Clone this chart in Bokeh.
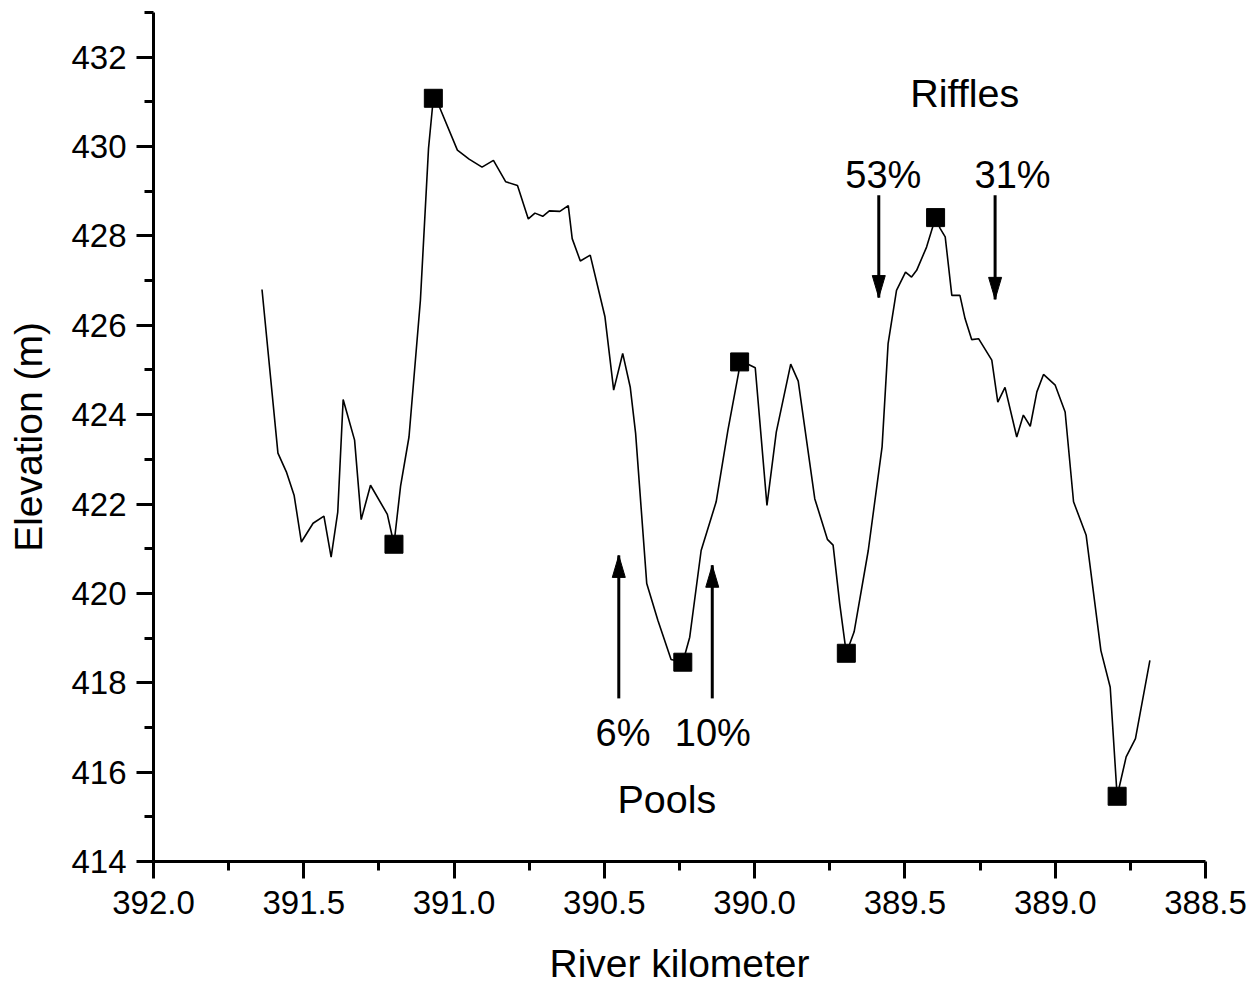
from bokeh.plotting import figure
from bokeh.models import Range1d, FixedTicker, NumeralTickFormatter
from bokeh.core.properties import value
from bokeh.embed import file_html
from bokeh.resources import INLINE

# Longitudinal bed profile: river kilometer vs. elevation (m)
km = [391.639, 391.586, 391.558, 391.532, 391.508, 391.469, 391.433, 391.409,
      391.387, 391.369, 391.331, 391.309, 391.278, 391.222, 391.200, 391.178,
      391.150, 391.112, 391.085, 391.069, 391.049, 390.989, 390.950, 390.907,
      390.869, 390.828, 390.789, 390.753, 390.731, 390.705, 390.683, 390.648,
      390.620, 390.607, 390.580, 390.547, 390.498, 390.469, 390.439, 390.414,
      390.396, 390.359, 390.322, 390.278, 390.239, 390.216, 390.178, 390.128,
      390.089, 390.053, 390.050, 390.022, 389.998, 389.959, 389.928, 389.880,
      389.855, 389.800, 389.758, 389.739, 389.717, 389.695, 389.669, 389.622,
      389.576, 389.556, 389.528, 389.498, 389.478, 389.461, 389.428, 389.398,
      389.383, 389.366, 389.344, 389.317, 389.300, 389.278, 389.255, 389.211,
      389.191, 389.167, 389.128, 389.106, 389.083, 389.061, 389.039, 389.000,
      388.967, 388.939, 388.897, 388.848, 388.817, 388.794, 388.764, 388.733,
      388.685]
elev = [426.80, 423.14, 422.72, 422.19, 421.15, 421.57, 421.73, 420.81,
        421.82, 424.34, 423.43, 421.65, 422.42, 421.77, 421.10, 422.40,
        423.50, 426.56, 429.96, 431.08, 430.89, 429.92, 429.72, 429.54,
        429.69, 429.21, 429.13, 428.38, 428.51, 428.44, 428.56, 428.55,
        428.68, 427.94, 427.44, 427.57, 426.19, 424.55, 425.37, 424.62,
        423.58, 420.22, 419.40, 418.52, 418.46, 419.02, 420.96, 422.05,
        423.65, 424.95, 425.18, 425.13, 425.05, 421.97, 423.61, 425.13,
        424.75, 422.12, 421.21, 421.08, 419.77, 418.66, 419.14, 420.96,
        423.28, 425.59, 426.78, 427.19, 427.08, 427.23, 427.75, 428.41,
        428.17, 427.98, 426.67, 426.67, 426.15, 425.68, 425.70, 425.22,
        424.28, 424.61, 423.50, 423.99, 423.74, 424.51, 424.90, 424.66,
        424.06, 422.05, 421.30, 418.72, 417.90, 415.46, 416.34, 416.75,
        418.50]

# Highlighted extremes (pool bottoms and riffle crests)
mark_km = [391.200, 391.069, 390.239, 390.050, 389.695, 389.398, 388.794]
mark_elev = [421.10, 431.08, 418.46, 425.18, 418.66, 428.41, 415.46]

# Annotation arrows: x position, tail elevation, tip elevation
arrow_km = [390.452, 390.141, 389.587, 389.200]
arrow_tail = [417.65, 417.65, 428.91, 428.91]
arrow_tip = [420.85, 420.63, 426.62, 426.58]

# Annotation texts
pct_labels = ["6%", "10%", "53%", "31%"]
pct_km = [390.438, 390.139, 389.572, 389.142]
pct_elev = [416.87, 416.87, 429.36, 429.36]
group_labels = ["Pools", "Riffles"]
group_km = [390.292, 389.301]
group_elev = [415.39, 431.19]

x_ticks = [392.0, 391.5, 391.0, 390.5, 390.0, 389.5, 389.0, 388.5]
x_minor = [391.75, 391.25, 390.75, 390.25, 389.75, 389.25, 388.75]
y_ticks = [414, 416, 418, 420, 422, 424, 426, 428, 430, 432]
y_minor = [415, 417, 419, 421, 423, 425, 427, 429, 431, 433]

FONT = "Liberation Sans"

p = figure(width=1260, height=990, output_backend="svg", toolbar_location=None,
           x_range=Range1d(392.0, 388.5), y_range=Range1d(414, 433),
           min_border_left=153, min_border_right=55, min_border_top=12,
           min_border_bottom=129)
p.outline_line_color = None
p.xgrid.visible = False
p.ygrid.visible = False
p.background_fill_color = "white"
p.border_fill_color = "white"

p.xaxis.ticker = FixedTicker(ticks=x_ticks, minor_ticks=x_minor)
p.xaxis.formatter = NumeralTickFormatter(format="0.0")
p.yaxis.ticker = FixedTicker(ticks=y_ticks, minor_ticks=y_minor)
p.yaxis.formatter = NumeralTickFormatter(format="0")
p.xaxis.axis_label = "River kilometer"
p.yaxis.axis_label = "Elevation (m)"

for ax in (p.xaxis[0], p.yaxis[0]):
    ax.axis_line_width = 3
    ax.axis_line_color = "black"
    ax.major_tick_line_width = 3
    ax.minor_tick_line_width = 3
    ax.major_tick_line_color = "black"
    ax.minor_tick_line_color = "black"
    ax.major_tick_in = 0
    ax.major_tick_out = 17
    ax.minor_tick_in = 0
    ax.minor_tick_out = 9
    ax.major_label_text_font = FONT
    ax.major_label_text_font_size = "33px"
    ax.major_label_text_color = "black"
    ax.axis_label_text_font = FONT
    ax.axis_label_text_font_size = "39px"
    ax.axis_label_text_font_style = "normal"
    ax.axis_label_text_color = "black"

p.xaxis.major_label_standoff = 12
p.yaxis.major_label_standoff = 10
p.xaxis.axis_label_standoff = 25
p.yaxis.axis_label_standoff = 18

# Profile line and highlighted points
p.line(km, elev, line_color="black", line_width=1.6)
p.scatter(mark_km, mark_elev, marker="square", size=18, fill_color="black",
          line_color="black")

# Arrow shafts
p.segment(x0=arrow_km, y0=arrow_tail, x1=arrow_km, y1=arrow_tip,
          line_color="black", line_width=3)

# Arrow heads: narrow filled triangles, sized in screen pixels
px_per_km = 1052 / 3.5
px_per_m = 849 / 19.0
half_w = 6.5 / px_per_km
head_len = 22 / px_per_m
head_xs, head_ys = [], []
for xk, tail, tip in zip(arrow_km, arrow_tail, arrow_tip):
    d = 1 if tip > tail else -1
    head_xs.append([xk - half_w, xk, xk + half_w])
    head_ys.append([tip - d * head_len, tip, tip - d * head_len])
p.patches(head_xs, head_ys, fill_color="black", line_color="black", line_width=1)

p.text(pct_km, pct_elev, text=pct_labels, text_align="center",
       text_baseline="alphabetic", text_font=value(FONT),
       text_font_size="38px", text_color="black")
p.text(group_km, group_elev, text=group_labels, text_align="center",
       text_baseline="alphabetic", text_font=value(FONT),
       text_font_size="39.5px", text_color="black")

open("out.html", "w").write(file_html(p, INLINE))
